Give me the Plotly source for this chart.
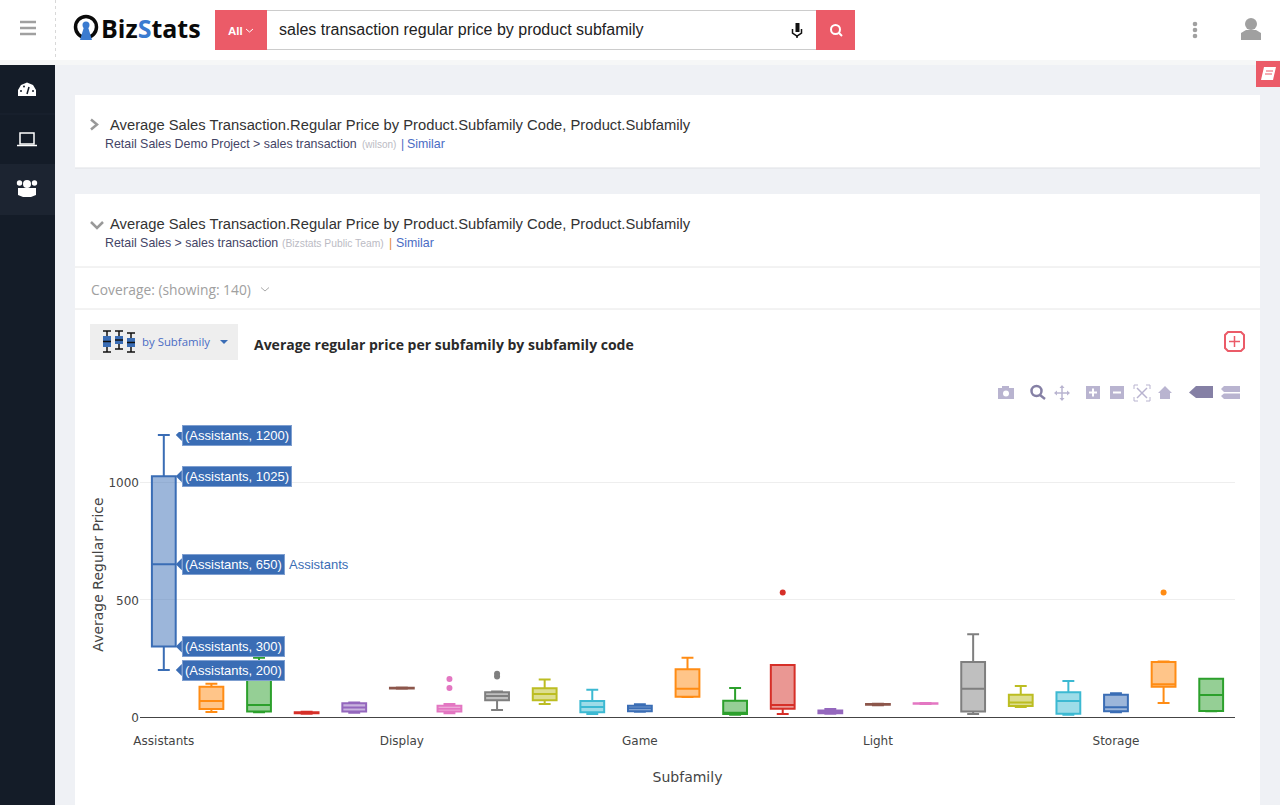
import plotly.graph_objects as go

# values, one entry per subfamily position
lower_fence = [200, 21, 20, 14, 18, 120, 16, 30, 55, 13, 22, 85, 10, 13, 14, 50, 55, 13, 43, 10, 20, 60, 25]
q1_values = [300, 34, 23, 16, 23, 121, 23, 71, 71, 20, 24, 86, 13, 35, 16, 52, 56, 23, 47, 14, 24, 129, 26]
median_values = [650, 68, 51, 18, 40, 123, 35, 89, 98, 43, 37, 120, 18, 51, 21, 54, 58, 120, 62, 68, 41, 139, 94]
q3_values = [1025, 129, 195, 20, 58, 124, 48, 105, 122, 68, 48, 203, 69, 221, 28, 55, 59, 234, 95, 105, 95, 234, 163]
upper_fence = [1200, 142, 252, 22, 62, 126, 55, 108, 160, 116, 54, 252, 123, 221, 34, 56, 60, 352, 132, 153, 101, 236, 163]
outliers = [[], [], [], [], [], [], [162, 123], [184, 172], [], [], [], [], [], [530], [], [], [], [], [], [], [], [530], []]

tick_labels = ["Assistants", "Display", "Game", "Light", "Storage"]
tick_positions = [0, 5, 10, 15, 20]
y_ticks = [0, 500, 1000]

# hover tags that were pinned on the first box
tag_category = "Assistants"
tag_values = [1200, 1025, 650, 300, 200]

box_colors = ["#3a6db5", "#ff8c14", "#2ca02c", "#d62f28", "#9467bd", "#8c564b", "#e377c2", "#7f7f7f", "#bcbd22", "#3cb9d2"]

SEARCH_TEXT = "sales transaction regular price by product subfamily"
CARD_TITLE = "Average Sales Transaction.Regular Price by Product.Subfamily Code, Product.Subfamily"
CHART_TITLE = "Average regular price per subfamily by subfamily code"

RED = "#eb5b68"
LINK = "#4a6cc4"
SANS = "Liberation Sans"

# plot area in page pixels
LEFT, RIGHT, TOP, BOTTOM = 140, 1235, 432, 717


def px(x):
    return (x - LEFT) / (RIGHT - LEFT)


def py(y):
    return (BOTTOM - y) / (BOTTOM - TOP)


def rgba(hex_color, alpha):
    r, g, b = (int(hex_color[i:i + 2], 16) for i in (1, 3, 5))
    return f"rgba({r},{g},{b},{alpha})"


shapes = []
notes = []


def rect(x0, y0, x1, y1, fill, layer="below", line=None, width=1):
    shapes.append(dict(type="rect", xref="paper", yref="paper", x0=px(x0), x1=px(x1), y0=py(y1), y1=py(y0),
                       fillcolor=fill, layer=layer, line=dict(color=line, width=width if line else 0)))


def seg(x0, y0, x1, y1, color, width=1, dash=None, layer="below"):
    shapes.append(dict(type="line", xref="paper", yref="paper", x0=px(x0), x1=px(x1), y0=py(y0), y1=py(y1),
                       layer=layer, line=dict(color=color, width=width, dash=dash or "solid")))


def dot(cx, cy, r, fill, line=None, width=1, layer="below"):
    shapes.append(dict(type="circle", xref="paper", yref="paper", x0=px(cx - r), x1=px(cx + r), y0=py(cy + r), y1=py(cy - r),
                       fillcolor=fill, layer=layer, line=dict(color=line, width=width if line else 0)))


def poly(points, fill=None, line=None, width=1, layer="below"):
    path = "M " + " L ".join(f"{px(x)} {py(y)}" for x, y in points)
    if fill:
        path += " Z"
    shapes.append(dict(type="path", xref="paper", yref="paper", path=path, fillcolor=fill, layer=layer,
                       line=dict(color=line, width=width if line else 0)))


def text(x, y, s, size, color, family=SANS, anchor="left", bold=False):
    notes.append(dict(xref="paper", yref="paper", x=px(x - 1), y=py(y), text=f"<b>{s}</b>" if bold else s, showarrow=False,
                      xanchor=anchor, yanchor="middle", borderpad=0, font=dict(family=family, size=size, color=color)))


# page background and cards
rect(0, 60, 1280, 65, "#f6f7f7")
rect(55, 65, 1280, 805, "#eff1f5")
rect(0, 65, 55, 805, "#141c28")
rect(0, 164, 55, 215, "#1c2431")
seg(0, 114, 55, 114, "#1b2330")
rect(75, 95, 1260, 168, "#ffffff")
seg(75, 168, 1260, 168, "#dfe1e5")
rect(75, 194, 1260, 805, "#ffffff")
seg(75, 267, 1260, 267, "#e6e6e6")
seg(75, 309, 1260, 309, "#e6e6e6")

# header
for yy in (22, 28, 34):
    seg(20, yy, 36, yy, "#a0a0a0", 2.5)
seg(55.5, 0, 55.5, 60, "#d8d8d8", 1, "dot")
dot(86, 27, 10.5, "#ffffff", "#0a0a0a", 3.5)
dot(86, 25, 3.5, "#3a7bd0")
poly([(84, 27), (88, 27), (92, 40), (80, 40)], "#3a7bd0")
notes.append(dict(xref="paper", yref="paper", x=px(100), y=py(28), showarrow=False, xanchor="left", yanchor="middle", borderpad=0,
                  text="<b>Biz<span style='color:#3a7bd0'>S</span>tats</b>",
                  font=dict(family="Open Sans", size=25, color="#0a0a0a")))
rect(215, 10, 267, 50, RED)
text(228, 31, "All", 11.5, "#ffffff", bold=True)
poly([(246, 29), (249.5, 32), (253, 29)], line="#ffffff", width=1)
seg(267, 10.5, 816, 10.5, "#cccccc")
seg(267, 49.5, 816, 49.5, "#cccccc")
text(279, 29.5, SEARCH_TEXT, 16, "#222222")
rect(795.5, 23, 799.5, 32, "#111111")
poly([(792.5, 29), (792.5, 33), (797, 36), (801.5, 33), (801.5, 29)], line="#111111", width=1.5)
seg(797, 36, 797, 38, "#111111", 1.5)
rect(816, 10, 855, 50, RED)
dot(835.5, 29.5, 4.5, None, "#ffffff", 2)
seg(839, 33, 842, 36, "#ffffff", 2)
for yy in (24, 30, 36):
    dot(1195, yy, 2.3, "#a0a0a0")
dot(1251, 24, 6, "#a0a0a0")
poly([(1241, 40), (1241, 33), (1246, 30), (1256, 30), (1261, 33), (1261, 40)], "#a0a0a0")
rect(1256, 61, 1280, 87, RED)
poly([(1261, 80), (1264, 67), (1276, 67), (1273, 80)], "#ffffff")
seg(1266, 71, 1273, 71, RED)
seg(1265, 74, 1272, 74, RED)

# sidebar icons
poly([(18, 96), (18, 90), (21, 85), (27, 82.5), (33, 85), (36, 90), (36, 96)], "#ffffff")
seg(27, 94, 29, 87, "#141c28", 1.5)
dot(21, 91, 1, "#141c28")
dot(33, 91, 1, "#141c28")
dot(24, 86.5, 1, "#141c28")
rect(20, 133, 34, 144, None, line="#ffffff", width=1.5)
seg(17, 145.5, 37, 145.5, "#ffffff", 1.5)
for cx, cy, r in ((27, 184, 4), (19.5, 183, 2.7), (34.5, 183, 2.7)):
    dot(cx, cy, r, "#ffffff")
poly([(18, 195), (18, 188), (36, 188), (36, 195), (31, 197), (23, 197)], "#ffffff")

# first card
poly([(91, 119.5), (97, 124.5), (91, 129.5)], line="#999999", width=2.5)
text(110, 124.5, CARD_TITLE, 14.75, "#333333")
text(105, 143.5, "Retail Sales Demo Project &gt; sales transaction", 12.4, "#444466")
text(362, 144, "(wilson)", 10, "#bbbbc4")
text(401, 143.5, "|", 12, "#4a6cc4")
text(407, 143.5, "Similar", 12.4, LINK)

# second card
poly([(91, 222), (97, 228), (103, 222)], line="#999999", width=2.5)
text(110, 224, CARD_TITLE, 14.75, "#333333")
text(105, 243, "Retail Sales &gt; sales transaction", 12.4, "#444466")
text(282, 243.5, "(Bizstats Public Team)", 10.3, "#bbbbc4")
text(389, 243, "|", 12, "#e08a3c")
text(396, 243, "Similar", 12.4, LINK)
text(91, 289, "Coverage: (showing: 140)", 13.8, "#a0a0a0", family="Open Sans")
poly([(261, 287.5), (265, 291), (269, 287.5)], line="#aaaaaa", width=1)

# chart type button
rect(90, 324, 238, 360, "#eeeeee")
for cx, top, low in ((107, 331, 352), (119, 331, 349), (131, 333, 352)):
    seg(cx, top, cx, low, "#111111", 1.5)
    seg(cx - 4, top, cx + 4, top, "#111111", 1.5)
    seg(cx - 4, low, cx + 4, low, "#111111", 1.5)
    rect(cx - 4, top + 5, cx + 4, low - 5, "#3a6db5")
    seg(cx - 4, (top + low) / 2, cx + 4, (top + low) / 2, "#111111", 1.5)
text(142, 341, "by Subfamily", 11.4, LINK, family="Open Sans")
poly([(220, 340), (228, 340), (224, 344)], "#3a6db5")
text(254, 344, CHART_TITLE, 14, "#2a2a2a", family="Open Sans", bold=True)
poly([(1228, 332), (1241, 332), (1244, 335), (1244, 348), (1241, 351), (1228, 351), (1225, 348), (1225, 335)],
     "rgba(0,0,0,0)", RED, 2)
seg(1234.5, 336, 1234.5, 347, RED, 1.5)
seg(1229, 341.5, 1240, 341.5, RED, 1.5)

# toolbar above the chart
ICON = "#b9b4d0"
ICON_ON = "#8580a5"
rect(998, 388, 1014, 399, ICON)
rect(1002, 386, 1009, 389, ICON)
dot(1006, 393.5, 3, "#ffffff")
dot(1036.5, 391, 5, None, ICON_ON, 2.5)
seg(1040, 395, 1045, 399, ICON_ON, 2.5)
seg(1062, 386, 1062, 400, ICON, 1.5)
seg(1055, 393, 1069, 393, ICON, 1.5)
poly([(1059.5, 388), (1062, 385), (1064.5, 388)], ICON)
poly([(1059.5, 398), (1062, 401), (1064.5, 398)], ICON)
poly([(1057, 390.5), (1054, 393), (1057, 395.5)], ICON)
poly([(1067, 390.5), (1070, 393), (1067, 395.5)], ICON)
for cx in (1093, 1117):
    rect(cx - 7, 386, cx + 7, 399, ICON)
    seg(cx - 4, 392.5, cx + 4, 392.5, "#ffffff", 2)
seg(1093, 388.5, 1093, 396.5, "#ffffff", 2)
for cx, cy, ox, oy in ((1137, 388, 1134, 385), (1147, 388, 1150, 385), (1137, 398, 1134, 401), (1147, 398, 1150, 401)):
    seg(cx, cy, 1142, 393, ICON, 1.5)
    seg(ox, oy, ox, oy + (4 if oy < 393 else -4), ICON, 1)
    seg(ox, oy, ox + (4 if ox < 1142 else -4), oy, ICON, 1)
poly([(1158, 393), (1165, 386), (1172, 393), (1170, 393), (1170, 399), (1160, 399), (1160, 393)], ICON)
poly([(1189, 392.5), (1196, 386), (1213, 386), (1213, 398), (1196, 398)], ICON_ON)
poly([(1221, 389), (1224, 386), (1240, 386), (1240, 392), (1224, 392)], ICON)
poly([(1221, 396), (1224, 393.5), (1240, 393.5), (1240, 399), (1224, 399)], ICON)

fig = go.Figure()

for i in range(len(median_values)):
    color = box_colors[i % len(box_colors)]
    box = go.Box(x=[i], q1=[q1_values[i]], median=[median_values[i]], q3=[q3_values[i]],
                 lowerfence=[lower_fence[i]], upperfence=[upper_fence[i]], width=0.5,
                 line=dict(color=color, width=2), fillcolor=rgba(color, 0.5),
                 marker=dict(color=color, size=6), showlegend=False)
    # an empty sample list makes the box disappear
    if outliers[i]:
        box.update(y=[outliers[i]], boxpoints="outliers")
    fig.add_trace(box)

# pinned hover tags, the little arrows are drawn relative to the data position
for v in tag_values:
    shapes.append(dict(type="path", xref="x", yref="y", xsizemode="pixel", ysizemode="pixel", xanchor=0, yanchor=v,
                       path="M 12 0 L 18 -6 L 18 6 Z", fillcolor=box_colors[0], line=dict(width=0), layer="above"))
    notes.append(dict(xref="x", yref="y", x=0, y=v, xshift=18, xanchor="left", yanchor="middle", showarrow=False,
                      text=f"({tag_category}, {v})", bgcolor=box_colors[0], bordercolor="#7f9fd0", borderwidth=1, borderpad=2,
                      font=dict(family=SANS, size=13, color="#ffffff")))
notes.append(dict(xref="x", yref="y", x=0, y=tag_values[2], xshift=123, xanchor="left", yanchor="middle", showarrow=False,
                  text=tag_category, font=dict(family=SANS, size=13, color=box_colors[0])))

fig.update_layout(width=1280, height=805, autosize=False,
                  margin=dict(l=LEFT, r=1280 - RIGHT, t=TOP, b=805 - BOTTOM, pad=0),
                  paper_bgcolor="#ffffff", plot_bgcolor="rgba(0,0,0,0)",
                  font=dict(family="DejaVu Sans", size=12, color="#444444"),
                  shapes=shapes, annotations=notes, boxmode="overlay")

fig.update_xaxes(range=[-0.5, 22.5], tickmode="array", tickvals=tick_positions, ticktext=tick_labels,
                 ticks="", ticklabelstandoff=13, showgrid=False, zeroline=False, showline=True, linecolor="#444444", linewidth=1,
                 title=dict(text="Subfamily", font=dict(size=14), standoff=24), automargin=False)
fig.update_yaxes(range=[0, 1213], tickmode="array", tickvals=y_ticks, showgrid=True, gridcolor="#eeeeee", zeroline=False,
                 ticks="", ticklabelshift=1, title=dict(text="Average Regular Price", font=dict(size=14), standoff=1), automargin=False)

fig.write_html("out.html", config=dict(displayModeBar=False),
               post_script="document.body.style.margin='0';document.body.style.overflow='hidden';")
